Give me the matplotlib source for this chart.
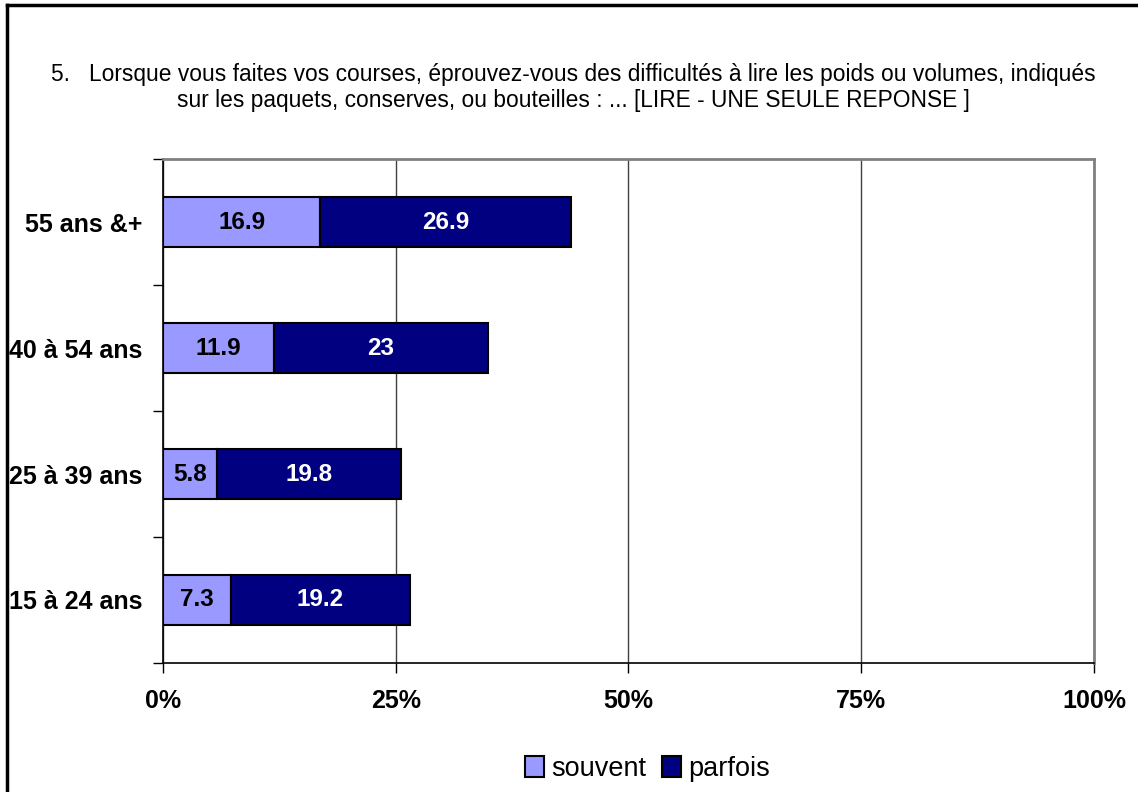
import matplotlib.pyplot as plt
from matplotlib.lines import Line2D
from matplotlib.patches import Patch

plt.rcParams['font.family'] = ['Liberation Sans', 'DejaVu Sans']

categories = ["15 à 24 ans", "25 à 39 ans", "40 à 54 ans", "55 ans &+"]
souvent = [7.3, 5.8, 11.9, 16.9]
parfois = [19.2, 19.8, 23, 26.9]
x_ticks = [0, 25, 50, 75, 100]
x_tick_labels = ["0%", "25%", "50%", "75%", "100%"]

TITLE = ("5.   Lorsque vous faites vos courses, éprouvez-vous des difficultés à lire les poids ou volumes, indiqués\n"
         "sur les paquets, conserves, ou bouteilles : ... [LIRE - UNE SEULE REPONSE ]")

LIGHT = "#9999FF"
DARK = "#000080"

fig = plt.figure(figsize=(11.38, 7.92), dpi=100)
ax = fig.add_axes([0.1432, 0.1629, 0.8181, 0.6363])

ypos = list(range(len(categories)))
b1 = ax.barh(ypos, souvent, height=0.4, color=LIGHT, edgecolor="black", linewidth=1.5, zorder=3)
b2 = ax.barh(ypos, parfois, left=souvent, height=0.4, color=DARK, edgecolor="black", linewidth=1.5, zorder=3)

for vals, lefts, col in [(souvent, [0] * 4, "black"), (parfois, souvent, "white")]:
    for y, v, l in zip(ypos, vals, lefts):
        ax.text(l + v / 2, y, f"{v:g}", ha="center", va="center", color=col,
                fontsize=17.5, fontweight="bold", zorder=4)

ax.set_xlim(0, 100)
ax.set_ylim(-0.5, len(categories) - 0.5)
ax.set_xticks(x_ticks)
ax.set_xticklabels(x_tick_labels, fontsize=18, fontweight="bold")
ax.tick_params(axis="x", direction="out", length=7, width=1, pad=12)

ax.set_yticks(ypos)
ax.set_yticklabels(categories, fontsize=18, fontweight="bold")
ax.tick_params(axis="y", which="major", length=0, pad=15)
ax.set_yticks([i - 0.5 for i in range(len(categories) + 1)], minor=True)
ax.tick_params(axis="y", which="minor", direction="out", length=7, width=1)

ax.grid(True, axis="x", color="#404040", linewidth=1, zorder=0)
ax.spines["left"].set_color("black")
ax.spines["bottom"].set_color("black")
ax.spines["left"].set_linewidth(1.2)
ax.spines["bottom"].set_linewidth(1.2)
for s in ["top", "right"]:
    ax.spines[s].set_color("#808080")
    ax.spines[s].set_linewidth(2)

fig.text(0.504, 0.8895, TITLE, ha="center", va="center", multialignment="center",
         fontsize=16.4, linespacing=1.2)

handles = [Patch(facecolor=LIGHT, edgecolor="black", linewidth=1.5),
           Patch(facecolor=DARK, edgecolor="black", linewidth=1.5)]
fig.legend(handles, ["souvent", "parfois"], loc="center", bbox_to_anchor=(0.569, 0.029),
           ncol=2, frameon=False, fontsize=19.5, handlelength=0.7, handleheight=0.8,
           handletextpad=0.25, columnspacing=0.6)

# outer frame (left and top edges only visible)
fig.add_artist(Line2D([0.0061, 0.0061], [0, 0.9937], color="black", linewidth=2.5,
                      transform=fig.transFigure))
fig.add_artist(Line2D([0.0061, 1], [0.9937, 0.9937], color="black", linewidth=2.5,
                      transform=fig.transFigure))

fig.savefig("out.png", dpi=100)
